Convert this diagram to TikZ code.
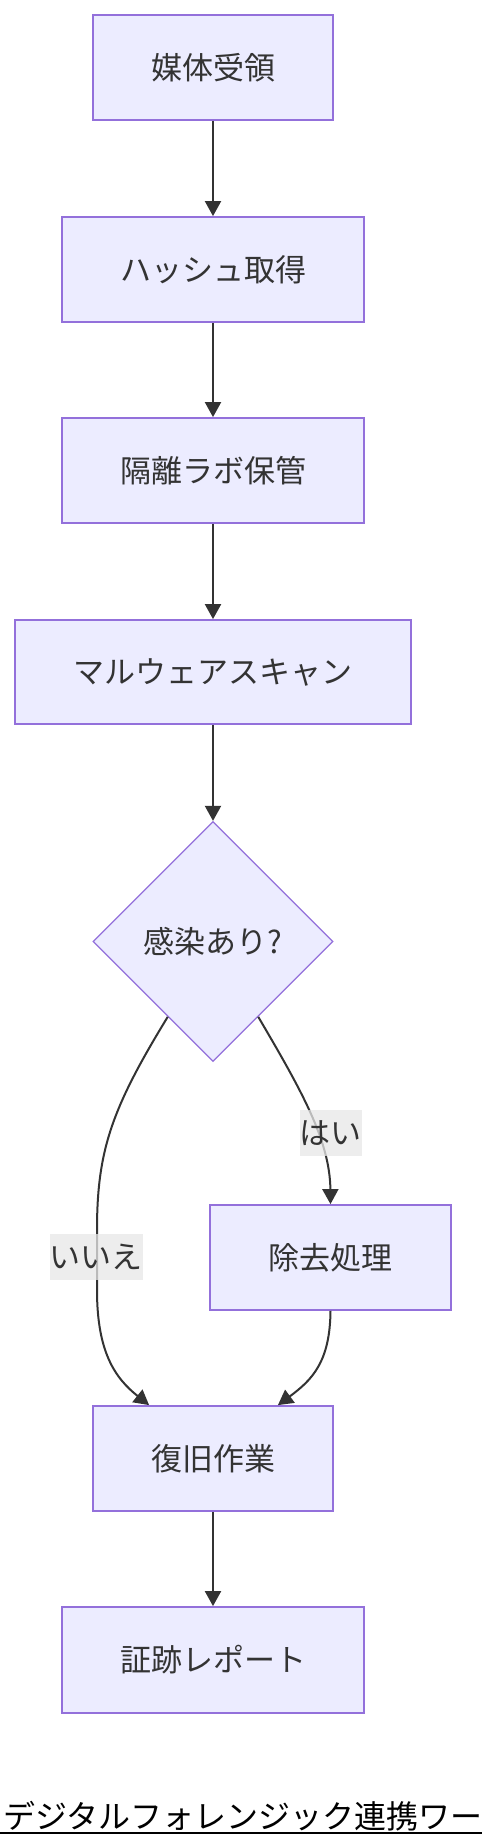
\documentclass[tikz,border=0pt]{standalone}
\usepackage{fontspec}
\setmainfont{Noto Sans CJK JP}
\usetikzlibrary{shapes.geometric,arrows.meta}
\definecolor{nodefill}{HTML}{ECECFF}
\definecolor{nodeline}{HTML}{9370DB}
\definecolor{edgecol}{HTML}{333333}
\definecolor{lblfill}{HTML}{E8E8E8}
\begin{document}
\begin{tikzpicture}[x=1pt,y=-1pt,
  nfont/.style={font=\fontsize{31}{37}\selectfont},
  box/.style={draw=nodeline,fill=nodefill,line width=1.8pt,inner sep=0pt,text=edgecol,nfont},
  dec/.style={diamond,aspect=1,draw=nodeline,fill=nodefill,line width=1.3pt,minimum width=240pt,minimum height=240pt,inner sep=0pt,text=edgecol,nfont},
  edge/.style={draw=edgecol,line width=2pt,-{Triangle[length=15pt,width=16pt]}},
  lbl/.style={fill=lblfill,fill opacity=0.75,text opacity=1,text=edgecol,inner sep=0pt,minimum height=46pt,nfont}]
\useasboundingbox (0,0) rectangle (482,1848);
\fill[white] (0,0) rectangle (482,1848);
\node[box,minimum width=240pt,minimum height=105pt] (a) at (213,67.5) {媒体受領};
\node[box,minimum width=302pt,minimum height=105pt] (b) at (213,269.5) {ハッシュ取得};
\node[box,minimum width=302pt,minimum height=105pt] (c) at (213,470.5) {隔離ラボ保管};
\node[box,minimum width=396pt,minimum height=104pt] (d) at (213,672) {マルウェアスキャン};
\node[dec] (e) at (213,941.5) {感染あり?};
\node[box,minimum width=241pt,minimum height=105pt] (f) at (330.5,1257.5) {除去処理};
\node[box,minimum width=240pt,minimum height=105pt] (g) at (213,1458.5) {復旧作業};
\node[box,minimum width=302pt,minimum height=106pt] (h) at (213,1660) {証跡レポート};
\draw[edge] (a) -- (b);
\draw[edge] (b) -- (c);
\draw[edge] (c) -- (d);
\draw[edge] (d) -- (e);
\draw[edge] (e.239) .. controls (112,1108) and (97,1150) .. (97,1230) -- (97,1290) .. controls (97,1352) and (115,1378) .. ([xshift=57pt]g.north west);
\draw[edge] (e.301) .. controls (300,1088) and (330,1140) .. (f.north);
\draw[edge] (f.south) .. controls (330,1362) and (312,1380) .. ([xshift=-56pt]g.north east);
\draw[edge] (g) -- (h);
\node[lbl,minimum width=92pt] (no) at (96,1257) {いいえ};
\node[lbl,minimum width=61pt] (yes) at (330.5,1133) {はい};
\node[anchor=base west,inner sep=0pt,font=\fontsize{32}{38}\selectfont] (t) at (3,1828) {デジタルフォレンジック連携ワー};
\draw[line width=1.3pt] (0,1833) -- (482,1833);
\end{tikzpicture}
\end{document}
